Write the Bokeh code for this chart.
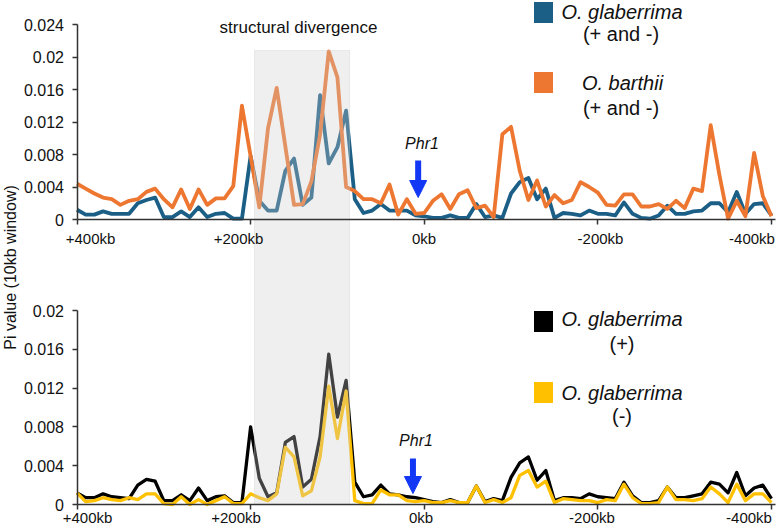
import math
from bokeh.plotting import figure
from bokeh.models import (Range1d, LinearAxis, FixedTicker, Arrow, NormalHead,
                          CustomJSTickFormatter)
from bokeh.core.properties import value
from bokeh.embed import file_html
from bokeh.resources import INLINE

# ---------------- data (10 kb windows, +400kb ... -400kb) ----------------
window_kb = list(range(400, -401, -10))

glaberrima_both = [
    0.0012, 0.0006, 0.0006, 0.0010, 0.0007, 0.0007, 0.0007, 0.0020, 0.0024, 0.0027,
    0.0003, 0.0003, 0.0010, 0.0003, 0.0015, 0.0003, 0.0007, 0.0008, 0.0001, 0.0001,
    0.0078, 0.0023, 0.0011, 0.0011, 0.0060, 0.0075, 0.0018, 0.0027, 0.0153, 0.0069,
    0.0089, 0.0134, 0.0025, 0.0008, 0.0011, 0.0019, 0.0011, 0.0011, 0.0011, 0.0005,
    0.0004,
    0.0002, 0.0002, 0.0005, 0.0002, 0.0002, 0.0019, 0.0003, 0.0005, 0.0002, 0.0032,
    0.0046, 0.0051, 0.0025, 0.0038, 0.0002, 0.0008, 0.0007, 0.0005, 0.0011, 0.0007,
    0.0007, 0.0005, 0.0021, 0.0007, 0.0002, 0.0001, 0.0005, 0.0017, 0.0007, 0.0007,
    0.0010, 0.0011, 0.0020, 0.0020, 0.0009, 0.0034, 0.0007, 0.0019, 0.0020, 0.0005]

barthii_both = [
    0.0044, 0.0038, 0.0032, 0.0027, 0.0025, 0.0018, 0.0023, 0.0025, 0.0034, 0.0038,
    0.0025, 0.0015, 0.0037, 0.0013, 0.0037, 0.0018, 0.0026, 0.0026, 0.0041, 0.0140,
    0.0078, 0.0015, 0.0112, 0.0162, 0.0090, 0.0018, 0.0019, 0.0047, 0.0104, 0.0207,
    0.0175, 0.0040, 0.0035, 0.0025, 0.0025, 0.0020, 0.0043, 0.0006, 0.0025, 0.0007,
    0.0008,
    0.0023, 0.0031, 0.0013, 0.0031, 0.0036, 0.0014, 0.0017, 0.0003, 0.0105, 0.0114,
    0.0060, 0.0024, 0.0048, 0.0016, 0.0030, 0.0020, 0.0024, 0.0046, 0.0040, 0.0033,
    0.0018, 0.0017, 0.0031, 0.0031, 0.0016, 0.0016, 0.0019, 0.0013, 0.0023, 0.0014,
    0.0038, 0.0035, 0.0116, 0.0055, 0.0001, 0.0023, 0.0004, 0.0082, 0.0029, 0.0004]

glaberrima_plus = [
    0.0012, 0.0007, 0.0007, 0.0011, 0.0008, 0.0007, 0.0006, 0.0020, 0.0026, 0.0024,
    0.0004, 0.0004, 0.0010, 0.0004, 0.0017, 0.0004, 0.0008, 0.0009, 0.0002, 0.0002,
    0.0080, 0.0027, 0.0008, 0.0012, 0.0064, 0.0070, 0.0018, 0.0026, 0.0070, 0.0155,
    0.0090, 0.0128, 0.0023, 0.0008, 0.0010, 0.0020, 0.0011, 0.0010, 0.0008, 0.0007,
    0.0005,
    0.0003, 0.0002, 0.0005, 0.0002, 0.0002, 0.0019, 0.0003, 0.0006, 0.0004, 0.0028,
    0.0043, 0.0049, 0.0025, 0.0035, 0.0004, 0.0007, 0.0007, 0.0006, 0.0011, 0.0008,
    0.0007, 0.0006, 0.0023, 0.0009, 0.0002, 0.0002, 0.0004, 0.0018, 0.0007, 0.0007,
    0.0009, 0.0011, 0.0023, 0.0021, 0.0012, 0.0033, 0.0009, 0.0017, 0.0020, 0.0006]

glaberrima_minus = [
    0.0012, 0.0003, 0.0004, 0.0007, 0.0005, 0.0004, 0.0007, 0.0005, 0.0011, 0.0011,
    0.0001, 0.0000, 0.0008, 0.0000, 0.0005, 0.0000, 0.0004, 0.0008, 0.0001, 0.0001,
    0.0011, 0.0007, 0.0004, 0.0011, 0.0059, 0.0049, 0.0009, 0.0014, 0.0049, 0.0122,
    0.0068, 0.0117, 0.0004, 0.0001, 0.0001, 0.0015, 0.0010, 0.0010, 0.0004, 0.0003,
    0.0004,
    0.0002, 0.0002, 0.0004, 0.0002, 0.0002, 0.0019, 0.0002, 0.0005, 0.0002, 0.0007,
    0.0030, 0.0035, 0.0018, 0.0024, 0.0002, 0.0006, 0.0005, 0.0004, 0.0004, 0.0002,
    0.0005, 0.0004, 0.0021, 0.0007, 0.0001, 0.0001, 0.0002, 0.0018, 0.0005, 0.0005,
    0.0004, 0.0006, 0.0018, 0.0011, 0.0002, 0.0021, 0.0004, 0.0011, 0.0011, 0.0002]

x_ticks = [400, 200, 0, -200, -400]
x_tick_labels = ["+400kb", "+200kb", "0kb", "-200kb", "-400kb"]
top_y_ticks = [0, 0.004, 0.008, 0.012, 0.016, 0.02, 0.024]
bottom_y_ticks = [0, 0.004, 0.008, 0.012, 0.016, 0.02]
divergence_kb = (195.5, 86.0)     # shaded region (kb)
phr1_kb = (7, 13)                 # arrow position, top / bottom panel

# ---------------- layout helpers (pixel -> data) ----------------
W, H = 777, 531
X0_PX, PX_PER_KB = 76.5, 0.8681
BOT_ZERO_PX, BOT_PX_PER_UNIT = 504.0, 9700.0
TOP_ZERO_PX, TOP_PX_PER_UNIT = 219.0, 8125.0
# horizontal centres (px) of the x tick labels, as placed in the original figure
TOP_XLABEL_PX = [90, 238, 423.5, 600, 751.5]
BOT_XLABEL_PX = [87, 235.5, 420.5, 591.5, 748.5]


def kb_at(px):
    return 400 - (px - X0_PX) / PX_PER_KB


def ybot(py):
    return (BOT_ZERO_PX - py) / BOT_PX_PER_UNIT


def ytop(py):
    return (TOP_ZERO_PX - py) / TOP_PX_PER_UNIT


BLUE = "#1b5f87"
ORANGE = "#ed7731"
BLACK = "#000000"
YELLOW = "#ffc000"
ARROW = "#1238f5"
AXIS = "#333333"
TXT = "#111111"
FONT_NAME = "Liberation Sans"
FONT = value(FONT_NAME)

p = figure(width=W, height=H, output_backend="svg", toolbar_location=None,
           x_range=Range1d(kb_at(0), kb_at(W)),
           y_range=Range1d(ybot(H), ybot(0)),
           x_axis_location=None, y_axis_location=None,
           min_border=0, outline_line_color=None,
           background_fill_color="white", border_fill_color="white")
p.extra_y_ranges = {"top": Range1d(ytop(H), ytop(0))}
p.xgrid.visible = False
p.ygrid.visible = False

# ---------------- lines ----------------
p.line(window_kb, glaberrima_both, y_range_name="top", line_color=BLUE,
       line_width=3.8, line_join="round")
p.line(window_kb, barthii_both, y_range_name="top", line_color=ORANGE,
       line_width=3.8, line_join="round")
p.line(window_kb, glaberrima_plus, line_color=BLACK, line_width=3.3,
       line_join="round")
p.line(window_kb, glaberrima_minus, line_color=YELLOW, line_width=3.3,
       line_join="round")

# shaded structural divergence band (drawn over the lines, translucent)
p.quad(left=[divergence_kb[0]], right=[divergence_kb[1]],
       bottom=[ybot(504)], top=[ybot(50)],
       fill_color="#cccccc", fill_alpha=0.32, line_color="#cccccc", line_alpha=0.35)

# ---------------- axes ----------------
y_fmt = CustomJSTickFormatter(code="return tick.toString();")


def style_axis(ax, size, standoff):
    ax.axis_line_color = AXIS
    ax.axis_line_width = 1.5
    ax.major_tick_line_color = AXIS
    ax.major_tick_line_width = 1.5
    ax.major_tick_out = 5
    ax.major_tick_in = 0
    ax.minor_tick_line_color = None
    ax.major_label_text_font = FONT_NAME
    ax.major_label_text_font_size = size
    ax.major_label_text_color = TXT
    ax.major_label_standoff = standoff


top_y = LinearAxis(y_range_name="top", fixed_location=400, bounds=(0, 0.024),
                   ticker=FixedTicker(ticks=top_y_ticks), formatter=y_fmt)
style_axis(top_y, "16px", 8)
p.add_layout(top_y, "left")

bot_y = LinearAxis(fixed_location=400, bounds=(0, 0.02),
                   ticker=FixedTicker(ticks=bottom_y_ticks), formatter=y_fmt)
style_axis(bot_y, "16px", 8)
p.add_layout(bot_y, "left")

top_x = LinearAxis(y_range_name="top", fixed_location=0, bounds=(-404.5, 400),
                   ticker=FixedTicker(ticks=x_ticks))
style_axis(top_x, "15px", 6)
top_x.major_label_text_color = None
p.add_layout(top_x, "below")

bot_x = LinearAxis(fixed_location=0, bounds=(-404.5, 400),
                   ticker=FixedTicker(ticks=x_ticks))
style_axis(bot_x, "15px", 1)
bot_x.major_label_text_color = None
p.add_layout(bot_x, "below")

# x tick labels (placed as in the original, slightly off-centre at the ends)
p.text(x=[kb_at(px) for px in TOP_XLABEL_PX], y=[ybot(238)] * len(x_tick_labels),
       text=x_tick_labels, text_font=FONT, text_font_size="15px", text_color=TXT,
       text_align="center", text_baseline="middle")
p.text(x=[kb_at(px) for px in BOT_XLABEL_PX], y=[ybot(517)] * len(x_tick_labels),
       text=x_tick_labels, text_font=FONT, text_font_size="15px", text_color=TXT,
       text_align="center", text_baseline="middle")

# ---------------- texts ----------------
p.text(x=[kb_at(10)], y=[ybot(267)], text=["Pi value (10kb window)"],
       angle=math.pi / 2, text_font=FONT, text_font_size="16px",
       text_color=TXT, text_align="center", text_baseline="middle")

p.text(x=[kb_at(298)], y=[ybot(27)], text=["structural divergence"],
       text_font=FONT, text_font_size="17px", text_color=TXT,
       text_align="center", text_baseline="middle")

# Phr1 labels and arrows
p.text(x=[kb_at(421.5), kb_at(415.5)], y=[ybot(143), ybot(440)],
       text=["Phr1", "Phr1"], text_font=FONT, text_font_size="16px",
       text_font_style="italic", text_color=TXT,
       text_align="center", text_baseline="middle")
for kb, y0, y1 in [(phr1_kb[0], 160, 197), (phr1_kb[1], 458, 493)]:
    p.add_layout(Arrow(end=NormalHead(size=17, fill_color=ARROW, line_color=ARROW),
                       x_start=kb, y_start=ybot(y0), x_end=kb, y_end=ybot(y1),
                       line_color=ARROW, line_width=6))

# legends
sq_x = kb_at(543)
p.rect(x=[sq_x] * 4, y=[ybot(12), ybot(82), ybot(321), ybot(392)],
       width=19, height=21, width_units="screen", height_units="screen",
       fill_color=[BLUE, ORANGE, BLACK, YELLOW], line_color=None)

p.text(x=[kb_at(621.5), kb_at(622), kb_at(621.5), kb_at(621.5)],
       y=[ybot(11), ybot(82), ybot(318), ybot(392)],
       text=["O. glaberrima", "O. barthii", "O. glaberrima", "O. glaberrima"],
       text_font=FONT, text_font_size="20px", text_font_style="italic",
       text_color=TXT, text_align="center", text_baseline="middle")
p.text(x=[kb_at(620.5), kb_at(620.5), kb_at(621.5), kb_at(621.5)],
       y=[ybot(33), ybot(107), ybot(343), ybot(415)],
       text=["(+ and -)", "(+ and -)", "(+)", "(-)"],
       text_font=FONT, text_font_size="20px",
       text_color=TXT, text_align="center", text_baseline="middle")

open("out.html", "w").write(file_html(p, INLINE))
